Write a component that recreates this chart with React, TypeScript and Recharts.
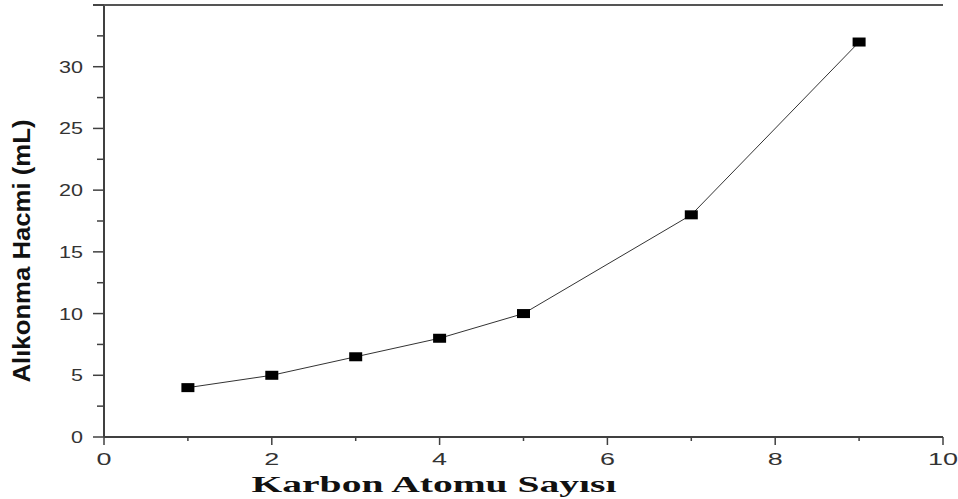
import { LineChart, Line, XAxis, YAxis } from "recharts";

const carbonAtoms = [1, 2, 3, 4, 5, 7, 9];
const retentionVolume = [4, 5, 6.5, 8, 10, 18, 32];
const xTicks = [0, 1, 2, 3, 4, 5, 6, 7, 8, 9, 10];
const yTicks = [0, 2.5, 5, 7.5, 10, 12.5, 15, 17.5, 20, 22.5, 25, 27.5, 30, 32.5, 35];
const yMax = 35;

const data = carbonAtoms.map((c, i) => ({ c, v: retentionVolume[i] }));

const W = 958;
const H = 499;
const margin = { top: 5, right: 15, bottom: 0, left: 0 };
const yAxisWidth = 104;
const xAxisHeight = 62;
const plotWidth = W - margin.right - margin.left - yAxisWidth;

const axisColor = "#404040";
const labelColor = "#333";

const XTick = (props: any) => {
  const { x, y, payload } = props;
  const major = payload.value % 2 === 0;
  const txt = String(payload.value);
  return (
    <g>
      <line x1={x} x2={x} y1={y} y2={y + (major ? 8 : 4)} stroke={axisColor} strokeWidth={1.5} />
      {major && (
        <text
          x={x}
          y={y + 28}
          textAnchor="middle"
          fontFamily="Liberation Sans, Arial, sans-serif"
          fontSize={17}
          fill={labelColor}
          textLength={txt.length * 15}
          lengthAdjust="spacingAndGlyphs"
        >
          {txt}
        </text>
      )}
    </g>
  );
};

const YTick = (props: any) => {
  const { x, y, payload } = props;
  const major = payload.value % 5 === 0;
  const txt = String(payload.value);
  return (
    <g>
      <line x1={x - (major ? 11 : 7)} x2={x} y1={y} y2={y} stroke={axisColor} strokeWidth={1.5} />
      {major && payload.value !== yMax && (
        <text
          x={x - 21}
          y={y + 6}
          textAnchor="end"
          fontFamily="Liberation Sans, Arial, sans-serif"
          fontSize={17}
          fill={labelColor}
          textLength={txt.length * 12}
          lengthAdjust="spacingAndGlyphs"
        >
          {txt}
        </text>
      )}
    </g>
  );
};

const SquareDot = (props: any) => {
  const { cx, cy } = props;
  if (cx == null || cy == null) return null;
  return <rect x={cx - 6.5} y={cy - 4.5} width={13} height={9} fill="#000" />;
};

export default function App() {
  return (
    <div style={{ position: "absolute", left: 0, top: 0, background: "#fff" }}>
      <LineChart width={W} height={H} data={data} margin={margin}>
        <XAxis
          dataKey="c"
          type="number"
          domain={[0, 10]}
          ticks={xTicks}
          interval={0}
          height={xAxisHeight}
          tickSize={0}
          tickMargin={0}
          tickLine={false}
          tick={<XTick />}
          axisLine={{ stroke: axisColor, strokeWidth: 2 }}
          label={{
            content: (p: any) => {
              const vb = p.viewBox;
              return (
                <text
                  x={vb.x + 330}
                  y={vb.y + 55}
                  textAnchor="middle"
                  fontFamily="Liberation Serif, Times New Roman, serif"
                  fontWeight="bold"
                  fontSize={24}
                  fill="#111"
                  textLength={365}
                  lengthAdjust="spacingAndGlyphs"
                >
                  Karbon Atomu Sayısı
                </text>
              );
            },
          }}
        />
        <YAxis
          type="number"
          domain={[0, yMax]}
          ticks={yTicks}
          interval={0}
          width={yAxisWidth}
          tickSize={0}
          tickMargin={0}
          tickLine={false}
          tick={<YTick />}
          axisLine={{ stroke: axisColor, strokeWidth: 2 }}
          label={{
            content: (p: any) => {
              const vb = p.viewBox;
              const cx = 30;
              const cy = 251;
              return (
                <g>
                  {/* top frame edge, from the y axis to the right edge of the plot */}
                  <line
                    x1={vb.x + vb.width - 11}
                    x2={vb.x + vb.width + plotWidth}
                    y1={vb.y}
                    y2={vb.y}
                    stroke="#555"
                    strokeWidth={2}
                  />
                  <text
                    x={cx}
                    y={cy}
                    transform={`rotate(-90 ${cx} ${cy})`}
                    textAnchor="middle"
                    fontFamily="Liberation Sans, Arial, sans-serif"
                    fontWeight="bold"
                    fontSize={24}
                    fill="#111"
                    textLength={263}
                    lengthAdjust="spacingAndGlyphs"
                  >
                    Alıkonma Hacmi (mL)
                  </text>
                </g>
              );
            },
          }}
        />
        <YAxis
          yAxisId="right"
          orientation="right"
          type="number"
          domain={[0, yMax]}
          width={0}
          tick={false}
          tickLine={false}
          axisLine={{ stroke: "#222", strokeWidth: 2 }}
        />
        <Line
          dataKey="v"
          type="linear"
          stroke="#333"
          strokeWidth={1}
          dot={<SquareDot />}
          activeDot={false}
          isAnimationActive={false}
        />
      </LineChart>
    </div>
  );
}
